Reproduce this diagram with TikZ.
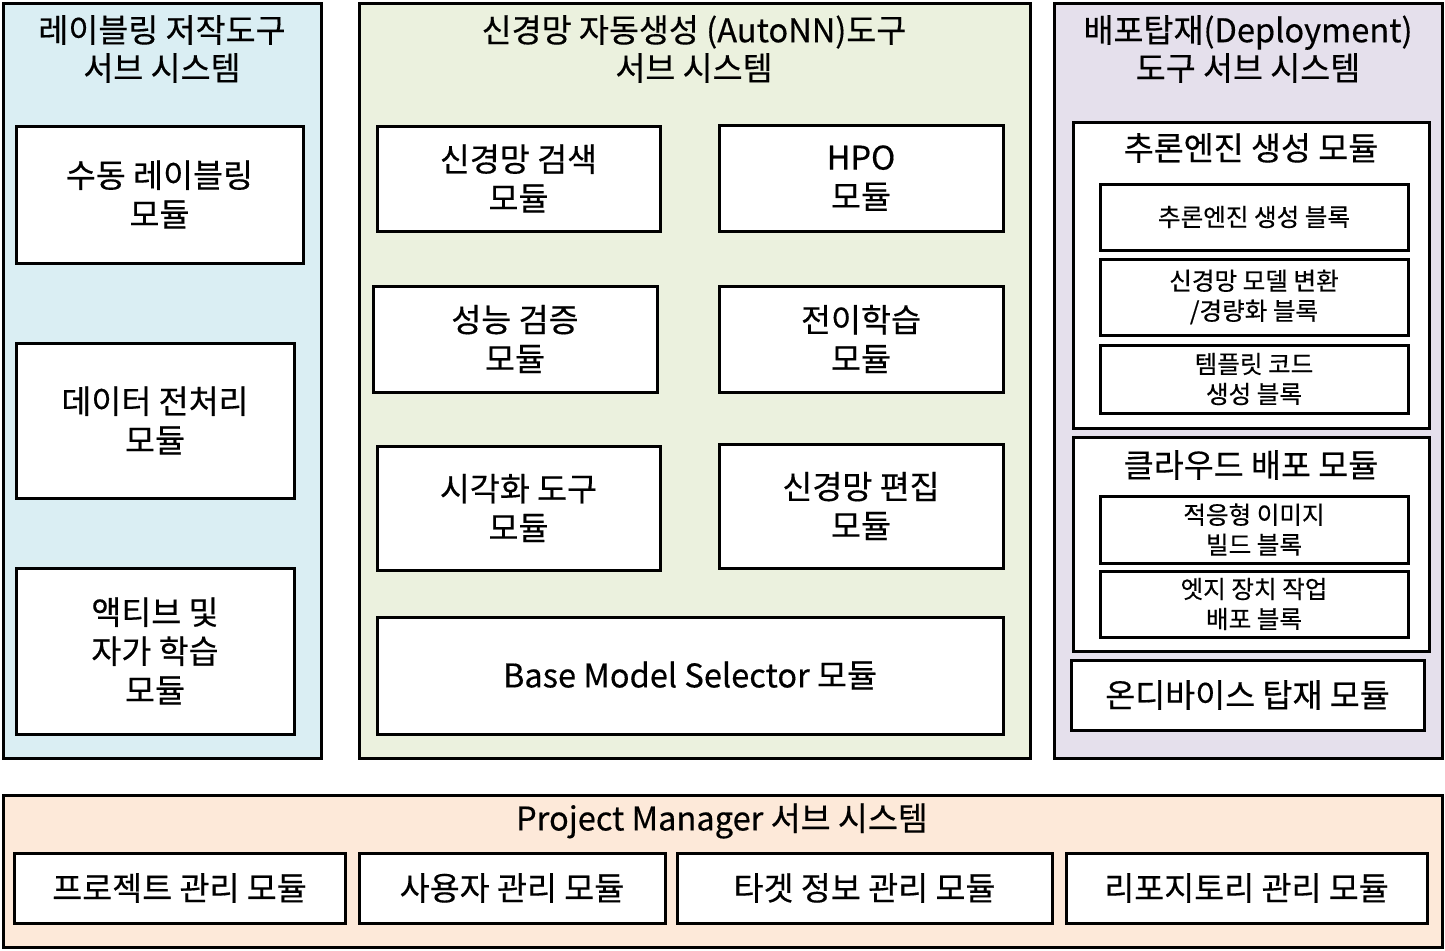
\documentclass[tikz,border=0pt]{standalone}
\usepackage{fontspec}
\setmainfont{Noto Sans CJK KR}[FakeBold=0.4]
\usepackage{tikz}
\usetikzlibrary{calc}

\definecolor{labelblue}{HTML}{DAEEF3}
\definecolor{autogreen}{HTML}{EBF1DE}
\definecolor{deploylilac}{HTML}{E5E0EC}
\definecolor{projpeach}{HTML}{FDE9D9}

\begin{document}
\begin{tikzpicture}[x=0.5pt,y=-0.5pt,
    panel/.style={draw,line width=1.5pt,inner sep=0pt,outer sep=0pt,anchor=north west},
    modbox/.style={draw,fill=white,line width=1.5pt,inner sep=0pt,outer sep=0pt,
      align=center,font=\fontsize{16.3}{19.5}\selectfont},
    blockbox/.style={modbox,font=\fontsize{12.3}{15}\selectfont},
    title/.style={align=center,inner sep=0pt,font=\fontsize{16.3}{19}\selectfont}]
    \useasboundingbox (0,0) rectangle (1445,950);

    \node[panel,fill=labelblue,minimum width=159pt,minimum height=377.5pt] (L) at (3,3) {};
    \node[panel,fill=autogreen,minimum width=335.5pt,minimum height=377.5pt] (M) at (359,3) {};
    \node[panel,fill=deploylilac,minimum width=194pt,minimum height=377.5pt] (R) at (1054,3) {};
    \node[panel,fill=projpeach,minimum width=719.5pt,minimum height=76pt] (P) at (3,795) {};

    \node[title] (Lt) at (162,49) {레이블링 저작도구\\서브 시스템};
    \node[title] (Mt) at (694,49) {신경망 자동생성 (AutoNN)도구\\서브 시스템};
    \node[title] (Rt) at (1248,49) {배포탑재(Deployment)\\도구 서브 시스템};
    \node[title] (Pt) at (722,821) {Project Manager 서브 시스템};

    \node[modbox,minimum width=143.5pt,minimum height=68.5pt] (L1) at (159.5,194.5) {수동 레이블링\\모듈};
    \node[modbox,minimum width=139pt,minimum height=77.5pt] (L2) at (155,420.5) {데이터 전처리\\모듈};
    \node[modbox,minimum width=139pt,minimum height=83pt] (L3) at (155,651) {액티브 및\\자가 학습\\모듈};

    \node[modbox,minimum width=141.5pt,minimum height=52.5pt] (M1) at (518.5,178.5) {신경망 검색\\모듈};
    \node[modbox,minimum width=142pt,minimum height=53pt] (M2) at (861,178) {HPO\\모듈};
    \node[modbox,minimum width=142pt,minimum height=53pt] (M3) at (515,339) {성능 검증\\모듈};
    \node[modbox,minimum width=142pt,minimum height=53pt] (M4) at (861,339) {전이학습\\모듈};
    \node[modbox,minimum width=141.5pt,minimum height=62pt] (M5) at (518.5,508) {시각화 도구\\모듈};
    \node[modbox,minimum width=142pt,minimum height=62pt] (M6) at (861,506) {신경망 편집\\모듈};
    \node[modbox,minimum width=313pt,minimum height=58.5pt] (M7) at (690,675.5) {Base Model Selector 모듈};

    \node[modbox,minimum width=178pt,minimum height=153pt] (R1) at (1251,275) {};
    \node[title] (R1t) at (1251,148) {추론엔진 생성 모듈};
    \node[blockbox,minimum width=154pt,minimum height=33pt] (R11) at (1254,217) {추론엔진 생성 블록};
    \node[blockbox,minimum width=154pt,minimum height=38pt] (R12) at (1254,297) {신경망 모델 변환\\/경량화 블록};
    \node[blockbox,minimum width=154pt,minimum height=34pt] (R13) at (1254,379) {템플릿 코드\\생성 블록};
    \node[modbox,minimum width=178pt,minimum height=107pt] (R2) at (1251,544) {};
    \node[title] (R2t) at (1251,465) {클라우드 배포 모듈};
    \node[blockbox,minimum width=154pt,minimum height=33.5pt] (R21) at (1254,529.5) {적응형 이미지\\빌드 블록};
    \node[blockbox,minimum width=154pt,minimum height=33pt] (R22) at (1254,604) {엣지 장치 작업\\배포 블록};
    \node[modbox,minimum width=176.5pt,minimum height=35pt] (R3) at (1247.5,695) {온디바이스 탑재 모듈};

    \node[modbox,minimum width=165.5pt,minimum height=35pt] (P1) at (179.5,888) {프로젝트 관리 모듈};
    \node[modbox,minimum width=153pt,minimum height=35pt] (P2) at (512,888) {사용자 관리 모듈};
    \node[modbox,minimum width=187.5pt,minimum height=35pt] (P3) at (864.5,888) {타겟 정보 관리 모듈};
    \node[modbox,minimum width=180.5pt,minimum height=35pt] (P4) at (1246.5,888) {리포지토리 관리 모듈};
  \end{tikzpicture}
\end{document}
